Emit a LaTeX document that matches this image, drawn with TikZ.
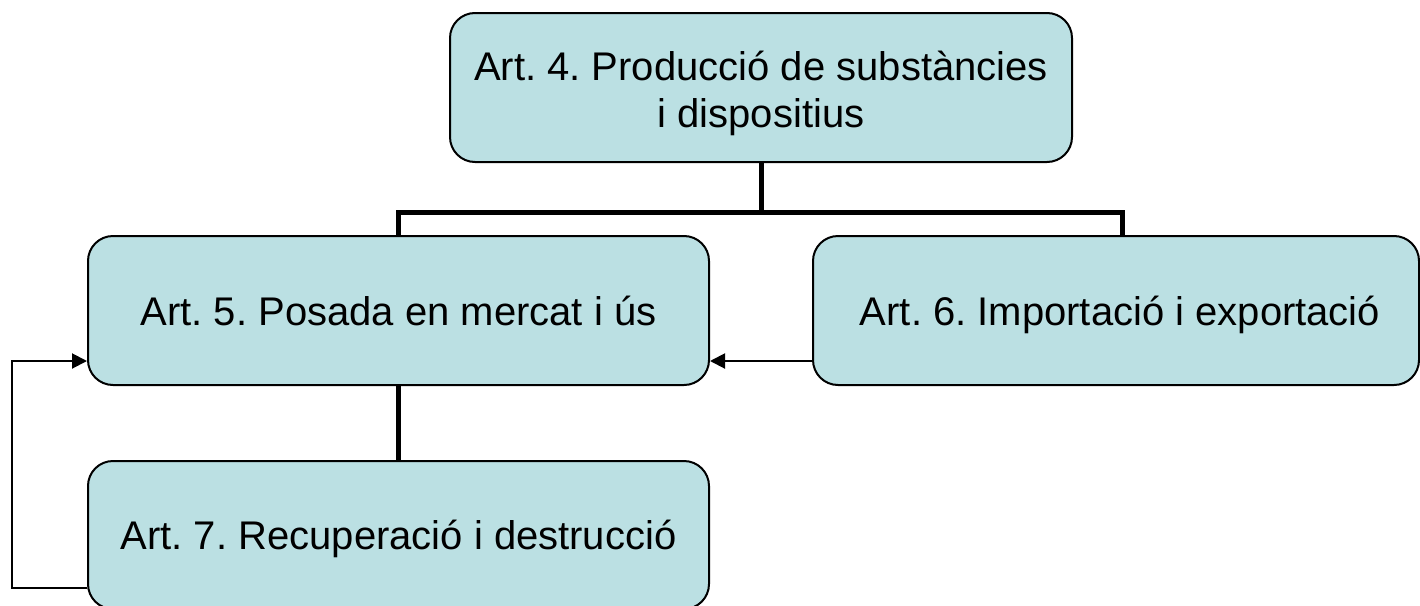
\documentclass[tikz,border=0pt]{standalone}
\usepackage{fontspec}
\setmainfont{Liberation Sans}
\usetikzlibrary{arrows.meta}
\definecolor{boxfill}{RGB}{187,224,227}
\frenchspacing
\begin{document}
\begin{tikzpicture}[x=1pt,y=-1pt,
  artbox/.style={draw=black, line width=2pt, fill=boxfill, rounded corners=25pt,
    inner sep=0pt, align=center, font=\fontsize{40}{47}\selectfont},
  tree/.style={line width=5pt, line join=miter},
  flow/.style={line width=2pt, -{Triangle[length=15pt,width=15pt]}}]
\useasboundingbox (0,0) rectangle (1420,605);
\node[artbox, minimum width=622pt, minimum height=149pt, text height=79pt, text depth=0pt] (top) at (761,87.5)
  {Art. 4. Producció de substàncies\\i dispositius};
\node[artbox, minimum width=621pt, minimum height=149pt, text height=29pt, text depth=0pt] (art5) at (398.5,310.5)
  {Art. 5. Posada en mercat i ús};
\node[artbox, minimum width=606pt, minimum height=149pt, text height=29pt, text depth=0pt] (art6) at (1116,310.5)
  {\hspace*{8pt}Art. 6. Importació i exportació};
\node[artbox, minimum width=621pt, minimum height=148pt, text height=29pt, text depth=0pt] (art7) at (398.5,535)
  {Art. 7. Recuperació i destrucció};
\coordinate (j) at (761,212);
\coordinate (r6) at (1122,236);
\coordinate (ya) at (0,361);
\coordinate (yb) at (0,588);
\coordinate (lx) at (12,0);
\draw[tree] (top.south) -- (j);
\draw[tree] (art5.north) |- (j) -| (r6);
\draw[tree] (art5.south) -- (art7.north);
\draw[flow] (art6.west |- ya) -- (art5.east |- ya);
\draw[flow] (art7.west |- yb) -- (lx |- yb) -- (lx |- ya) -- (art5.west |- ya);
\end{tikzpicture}
\end{document}
